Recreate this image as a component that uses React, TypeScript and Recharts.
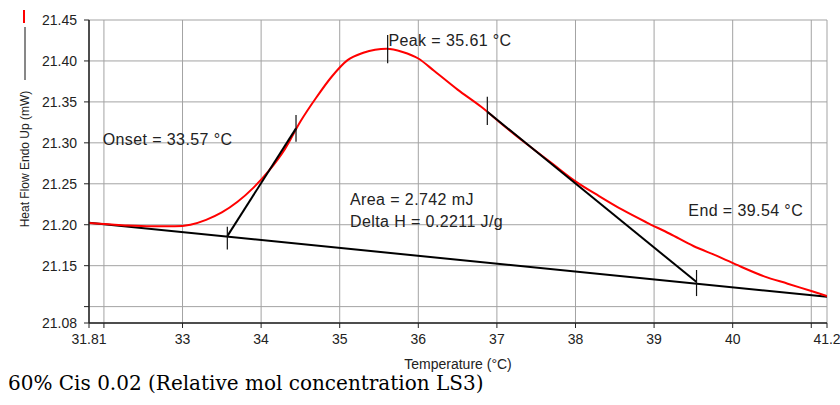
import { ComposedChart, Line, XAxis, YAxis, CartesianGrid, ReferenceLine, ReferenceDot, Label } from "recharts";

// heat flow curve (red)
const temps = [
  31.81, 32.0, 32.3, 32.6, 32.9, 33.1, 33.3, 33.5, 33.7, 33.9, 34.1, 34.3, 34.5, 34.7, 34.9, 35.1, 35.3, 35.6, 35.8,
  36.0, 36.2, 36.5, 36.8, 37.1, 37.4, 37.7, 38.0, 38.3, 38.6, 38.9, 39.2, 39.5, 39.8, 40.1, 40.4, 40.7, 41.0, 41.2,
];
const heatFlow = [
  21.202, 21.201, 21.199, 21.198, 21.198, 21.2, 21.206, 21.215, 21.228, 21.245, 21.266, 21.292, 21.326, 21.355,
  21.381, 21.401, 21.41, 21.415, 21.411, 21.403, 21.388, 21.365, 21.344, 21.32, 21.297, 21.275, 21.253, 21.235,
  21.218, 21.203, 21.189, 21.174, 21.162, 21.149, 21.137, 21.128, 21.119, 21.113,
];

// integration baseline and the two tangents
const baseT = [31.81, 41.2];
const baseV = [21.2024, 21.112];
const onsetT = [33.57, 34.444];
const onsetV = [21.1861, 21.3177];
const endT = [36.878, 39.54];
const endV = [21.338, 21.13];

// small vertical markers
const markT = [33.57, 34.444, 35.61, 36.878, 39.54];
const markLo = [21.1696, 21.3014, 21.3971, 21.3218, 21.1129];
const markHi = [21.1976, 21.334, 21.4317, 21.3563, 21.1447];

// annotations
const notes = ["Onset = 33.57 °C", "Peak = 35.61 °C", "Area = 2.742 mJ", "Delta H = 0.2211 J/g", "End = 39.54 °C"];
const noteT = [31.984, 35.62, 35.131, 35.131, 39.436];
const noteV = [21.3047, 21.4256, 21.2314, 21.2037, 21.218];

const xTicks = [31.81, 32, 33, 34, 35, 36, 37, 38, 39, 40, 41, 41.2];
const yTicks = [21.08, 21.1, 21.15, 21.2, 21.25, 21.3, 21.35, 21.4, 21.45];
const hiddenX = [32, 41];
const hiddenY = [21.1];

const FONT = "'Liberation Sans', Arial, sans-serif";

const zip = (t: number[], v: number[]) => t.map((x, i) => ({ t: x, v: v[i] }));
const curve = zip(temps, heatFlow);
const baseline = zip(baseT, baseV);
const onsetLine = zip(onsetT, onsetV);
const endLine = zip(endT, endV);

const YLabel = (props: any) => {
  const vb = props.viewBox || { x: 0, y: 20 };
  const cx = vb.x + 25;
  return (
    <g>
      <line x1={cx - 1} x2={cx - 1} y1={vb.y - 10} y2={vb.y + 3} stroke="#ff0000" strokeWidth={2} />
      <line x1={cx} x2={cx} y1={vb.y + 7} y2={vb.y + 60} stroke="#111" strokeWidth={1} />
      <text
        x={cx}
        y={vb.y + 139}
        transform={`rotate(-90 ${cx} ${vb.y + 139})`}
        textAnchor="middle"
        dy="0.36em"
        fontSize={12}
        fontFamily={FONT}
        fill="#222"
      >
        Heat Flow Endo Up (mW)
      </text>
    </g>
  );
};

export default function App() {
  return (
    <div style={{ position: "absolute", left: 0, top: 0, width: 840, height: 405, overflow: "hidden", background: "#fff" }}>
      <ComposedChart width={840} height={373} margin={{ top: 20, right: 13, bottom: 0, left: 0 }}>
        <CartesianGrid stroke="#a3a3a3" strokeWidth={1} />
        <XAxis
          type="number"
          dataKey="t"
          domain={[31.81, 41.2]}
          ticks={xTicks}
          interval={0}
          allowDataOverflow
          height={50}
          tickSize={5}
          tickMargin={6}
          axisLine={{ stroke: "#222", strokeWidth: 1.5 }}
          tickLine={{ stroke: "#222" }}
          tick={{ fontSize: 14, fontFamily: FONT, fill: "#222" }}
          tickFormatter={(v: number) => (hiddenX.includes(v) ? "" : String(v))}
        >
          <Label value="Temperature (°C)" position="insideBottom" offset={4} fontSize={14} fontFamily={FONT} fill="#222" />
        </XAxis>
        <YAxis
          type="number"
          domain={[21.08, 21.45]}
          ticks={yTicks}
          interval={0}
          allowDataOverflow
          width={89}
          tickSize={5}
          tickMargin={7}
          axisLine={{ stroke: "#222", strokeWidth: 1.5 }}
          tickLine={{ stroke: "#222" }}
          tick={{ fontSize: 14, fontFamily: FONT, fill: "#222" }}
          tickFormatter={(v: number) => (hiddenY.includes(v) ? "" : v.toFixed(2))}
          label={{ content: YLabel }}
        />
        <Line data={baseline} dataKey="v" type="linear" stroke="#000" strokeWidth={2} dot={false} isAnimationActive={false} />
        <Line data={curve} dataKey="v" type="monotone" stroke="#ff0000" strokeWidth={2} dot={false} isAnimationActive={false} />
        <Line data={onsetLine} dataKey="v" type="linear" stroke="#000" strokeWidth={2} dot={false} isAnimationActive={false} />
        <Line data={endLine} dataKey="v" type="linear" stroke="#000" strokeWidth={2} dot={false} isAnimationActive={false} />
        {markT.map((t, i) => (
          <ReferenceLine
            key={"m" + i}
            segment={[
              { x: t, y: markLo[i] },
              { x: t, y: markHi[i] },
            ]}
            stroke="#111"
            strokeWidth={1.2}
          />
        ))}
        {notes.map((txt, i) => (
          <ReferenceDot
            key={"n" + i}
            x={noteT[i]}
            y={noteV[i]}
            r={0}
            ifOverflow="visible"
            shape={(p: any) => (
              <text x={p.cx} y={p.cy} dy="0.36em" fontSize={16} letterSpacing={0.4} fontFamily={FONT} fill="#222">
                {txt}
              </text>
            )}
          />
        ))}
      </ComposedChart>
      <div
        style={{
          position: "absolute",
          left: 8,
          top: 373,
          fontFamily: "'DejaVu Serif', serif",
          fontSize: 20,
          lineHeight: "20px",
          color: "#000",
          whiteSpace: "nowrap",
        }}
      >
        60% Cis 0.02 (Relative mol concentration LS3)
      </div>
    </div>
  );
}
